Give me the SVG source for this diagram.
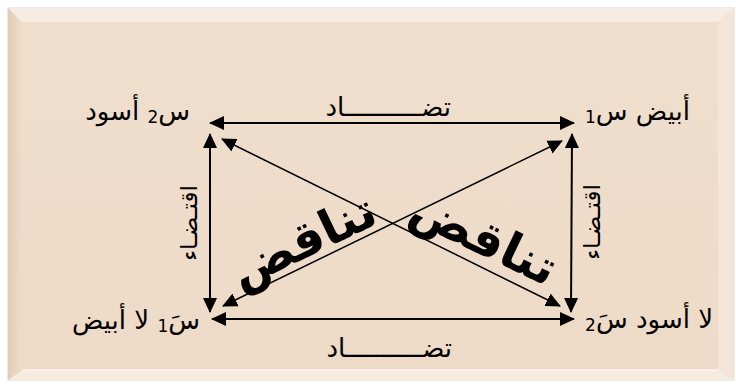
<svg xmlns="http://www.w3.org/2000/svg" width="736" height="385" viewBox="0 0 736 385">
<style>
.lbl{font-family:"DejaVu Sans",sans-serif;font-size:26px;fill:#000;direction:rtl}
.sub{font-size:17px}
.rel{font-family:"DejaVu Sans",sans-serif;font-size:23px;fill:#000;direction:rtl}
.big{font-family:"DejaVu Sans",sans-serif;font-size:49px;font-weight:bold;fill:#000;direction:rtl}
.ln{stroke:#000;stroke-width:2;fill:none;marker-start:url(#ah);marker-end:url(#ah)}
.thin{stroke-width:1.5}
</style>
<defs>
<marker id="ah" markerUnits="userSpaceOnUse" markerWidth="16" markerHeight="16" refX="14" refY="7" orient="auto-start-reverse" viewBox="0 0 16 14">
<path d="M0,0 L15,7 L0,14 Z" fill="#000"/>
</marker>
<linearGradient id="face" x1="0" y1="0" x2="0" y2="1">
<stop offset="0" stop-color="#F0DFCD"/>
<stop offset="1" stop-color="#EDDAC7"/>
</linearGradient>
<linearGradient id="lb" x1="0" y1="0" x2="1" y2="0">
<stop offset="0" stop-color="#E2CCB7"/>
<stop offset="1" stop-color="#EEDDCB"/>
</linearGradient>
</defs>
<rect width="736" height="385" fill="#fff"/>
<g id="frame">
<rect x="8" y="8" width="726" height="372" fill="#EAD6C2" stroke="#D9D3CE" stroke-width="1"/>
<polygon points="8,8 734,8 718,22 22,22" fill="#F7ECE1"/>
<polygon points="8,8 22,22 22,370 8,380" fill="url(#lb)"/>
<polygon points="734,8 734,380 718,370 718,22" fill="#F3E6D9"/>
<polygon points="8,380 22,370 718,370 734,380" fill="#F6EBDF"/>
<rect x="22" y="22" width="696" height="348" fill="url(#face)"/>
<line x1="22" y1="370" x2="718" y2="370" stroke="#FBF4EC" stroke-width="1.5"/>
</g>
<g id="connectors">
<line class="ln" x1="210" y1="123" x2="574" y2="123"/>
<line class="ln" x1="212" y1="319" x2="574" y2="319"/>
<line class="ln" x1="210" y1="134" x2="210" y2="312"/>
<line class="ln" x1="572" y1="134" x2="571" y2="312"/>
<line class="ln thin" x1="222" y1="139" x2="560" y2="306"/>
<line class="ln thin" x1="562" y1="141" x2="223" y2="306"/>
</g>
<g id="node-tr"><text class="lbl" x="690" y="120">أبيض س<tspan class="sub" dy="3">1</tspan></text></g>
<g id="node-tl"><text class="lbl" x="190" y="120">س<tspan class="sub" dy="3">2</tspan><tspan dy="-3"> أسود</tspan></text></g>
<g id="node-bl"><text class="lbl" x="200" y="329" font-size="27">سَ<tspan class="sub" dy="3">1</tspan><tspan dy="-3"> لا أبيض</tspan></text></g>
<g id="node-br"><text class="lbl" x="713" y="328">لا أسود سَ<tspan class="sub" dy="3">2</tspan></text></g>
<g id="labels">
<text class="lbl" x="451" y="116">تضــــــــــاد</text>
<text class="lbl" x="452" y="357">تضــــــــــاد</text>
<text class="rel" transform="translate(197,223) rotate(-90)" text-anchor="middle">اقتـضـاء</text>
<text class="rel" transform="translate(600,222) rotate(-90)" text-anchor="middle">اقتـضـاء</text>
<text class="big" transform="translate(310,256) rotate(-25.6)" text-anchor="middle">تناقض</text>
<text class="big" transform="translate(477,253) rotate(25.6)" text-anchor="middle">تناقض</text>
</g>
</svg>
